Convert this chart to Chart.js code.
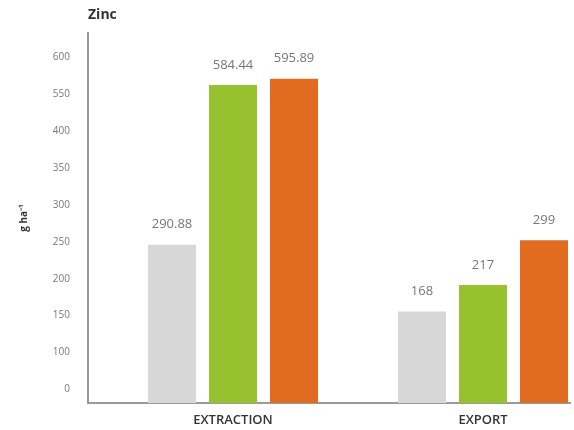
<!DOCTYPE html>
<html>
<head>
<meta charset="utf-8">
<script src="https://cdn.jsdelivr.net/npm/chart.js@4"></script>
<style>
  html, body { margin: 0; padding: 0; background: #fff; overflow: hidden; }
  #wrap { width: 574px; height: 430px; }
</style>
</head>
<body>
<div id="wrap"><canvas id="chart" width="574" height="430"></canvas></div>
<script>
const chartTitle = "Zinc";
const yTitle = "g ha\u207B\u00B9";
const categories = ["EXTRACTION", "EXPORT"];
const series1 = [290.88, 168];
const series2 = [584.44, 217];
const series3 = [595.89, 299];
const valueLabels = [["290.88", "168"], ["584.44", "217"], ["595.89", "299"]];
// the source axis prints these labels evenly spaced, not to scale
const yTickLabels = ["0", "100", "150", "200", "250", "300", "350", "400", "550", "600"];

const positions = categories.map((_, i) => i + 1);

const valueLabelPlugin = {
  id: "valueLabels",
  afterDatasetsDraw(chart) {
    const ctx = chart.ctx;
    ctx.save();
    ctx.font = "13px 'Open Sans'";
    ctx.fillStyle = "#777";
    ctx.textAlign = "center";
    ctx.textBaseline = "middle";
    chart.data.datasets.forEach((ds, di) => {
      chart.getDatasetMeta(di).data.forEach((bar, i) => {
        ctx.fillText(valueLabels[di][i], bar.x, bar.y - 20);
      });
    });
    // title sits over the y axis line
    ctx.font = "bold 14px 'Open Sans'";
    ctx.fillStyle = "#333";
    ctx.textAlign = "left";
    ctx.fillText(chartTitle, chart.chartArea.left, 15);
    ctx.restore();
  }
};

new Chart(document.getElementById("chart"), {
  type: "bar",
  data: {
    labels: positions,
    datasets: [
      { data: series1, backgroundColor: "#d7d7d7" },
      { data: series2, backgroundColor: "#97c12f" },
      { data: series3, backgroundColor: "#e16b1f" }
    ]
  },
  options: {
    responsive: false,
    animation: false,
    categoryPercentage: 0.732,
    barPercentage: 0.787,
    layout: { padding: { left: 18, top: 33, right: 4, bottom: 0 } },
    plugins: {
      legend: { display: false },
      tooltip: { enabled: false }
    },
    scales: {
      x: {
        type: "linear",
        offset: false,
        min: 0.42,
        max: 2.348,
        grid: { display: false, drawTicks: false, offset: false },
        border: { color: "#9a9a9a", width: 2 },
        afterBuildTicks: (scale) => {
          scale.ticks = positions.map((v) => ({ value: v }));
        },
        afterFit: (scale) => { scale.height = 27; },
        ticks: {
          padding: 9,
          color: "#333",
          font: { family: "'Open Sans'", size: 13, weight: "600" },
          callback: (v) => categories[v - 1]
        }
      },
      y: {
        min: 0,
        max: 680,
        grid: { display: false, drawTicks: false },
        border: { color: "#9a9a9a", width: 2 },
        afterBuildTicks: (scale) => {
          scale.ticks = yTickLabels.map((_, i) => ({ value: 25 + i * 67.8 }));
        },
        afterFit: (scale) => { scale.width = 70; },
        title: {
          display: true,
          text: yTitle,
          color: "#333",
          font: { family: "'Open Sans'", size: 10, weight: "bold" },
          padding: 0
        },
        ticks: {
          padding: 18,
          color: "#777",
          font: { family: "'Open Sans'", size: 10 },
          callback: (v, i) => yTickLabels[i]
        }
      }
    }
  },
  plugins: [valueLabelPlugin]
});
</script>
</body>
</html>
